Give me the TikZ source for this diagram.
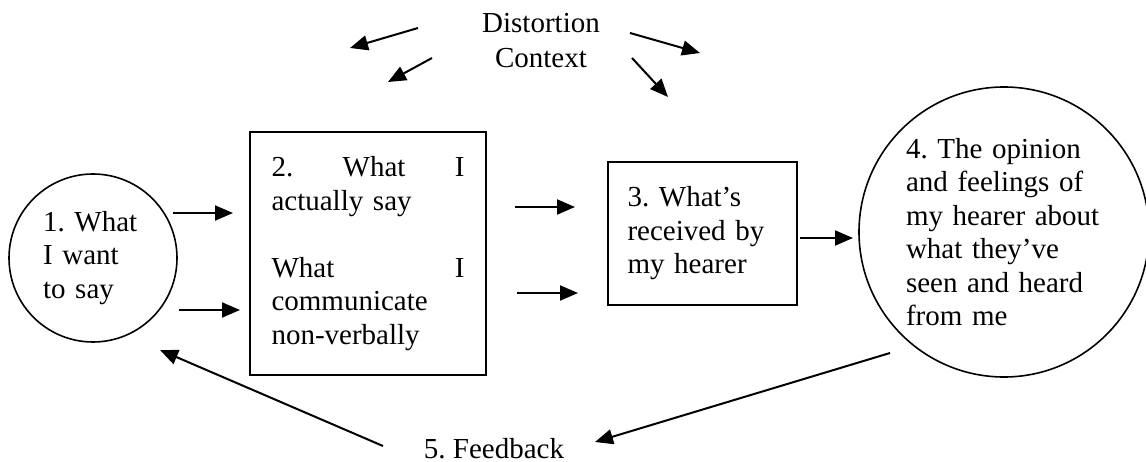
\documentclass[tikz,border=0pt]{standalone}
\usepackage{fontspec}
\setmainfont{Liberation Serif}
\usetikzlibrary{arrows.meta}

\begin{document}
\begin{tikzpicture}[x=1pt,y=-1pt,
  every node/.style={font=\fontsize{29}{33.5}\selectfont\frenchspacing, inner sep=0pt},
  stage/.style={draw, line width=1.6pt, align=left},
  arr/.style={line width=2pt, -{Triangle[length=18pt,width=15pt]}}]
 \useasboundingbox (0,0) rectangle (1146,462);

 \node[stage, circle, minimum size=168pt, text width=100pt] (want) at (93,258) {1. What\\ I want\\ to say};
 \node[stage, minimum width=236pt, minimum height=243pt, text width=193pt] (said) at (368,253.5)
  {\makebox[\linewidth]{2.\hfill What\hfill I}\\ actually say\\[33.5pt]
   \makebox[\linewidth]{What\hfill I}\\ communicate\\ non-verbally};
 \node[stage, minimum width=189pt, minimum height=143pt, text width=150pt] (got) at (702.5,233.5)
  {3. What’s\\ received by\\ my hearer};
 \node[stage, circle, minimum size=290pt, text width=196pt] (opinion) at (1004,232)
  {4. The opinion\\ and feelings of\\ my hearer about\\ what they’ve\\ seen and heard\\ from me};
 \node[align=center, text width=140pt, anchor=base] (dist) at (541,33) {Distortion\\[1pt] Context};
 \node[anchor=base] (feed) at (494,458) {5. Feedback};

 \coordinate (sayup) at (173,213);   \coordinate (sayup') at (233,213);
 \coordinate (saylo) at (179,310);   \coordinate (saylo') at (240,310);
 \coordinate (getup) at (515,207);   \coordinate (getup') at (575,207);
 \coordinate (getlo) at (517,293);   \coordinate (getlo') at (578,293);
 \coordinate (hear) at (800,238);    \coordinate (hear') at (853,238);
 \coordinate (dl1) at (418,28);      \coordinate (dl1') at (350,48);
 \coordinate (dl2) at (432,58);      \coordinate (dl2') at (388,82);
 \coordinate (dr1) at (630,33);      \coordinate (dr1') at (700,53);
 \coordinate (dr2) at (632,58);      \coordinate (dr2') at (668,97);
 \coordinate (back) at (383,446);    \coordinate (back') at (160,350);
 \coordinate (reply) at (890,353);   \coordinate (reply') at (595,442);

 \foreach \a in {sayup,saylo,getup,getlo,hear,dl1,dl2,dr1,dr2,back,reply}
  \draw[arr] (\a) -- (\a');
\end{tikzpicture}
\end{document}
